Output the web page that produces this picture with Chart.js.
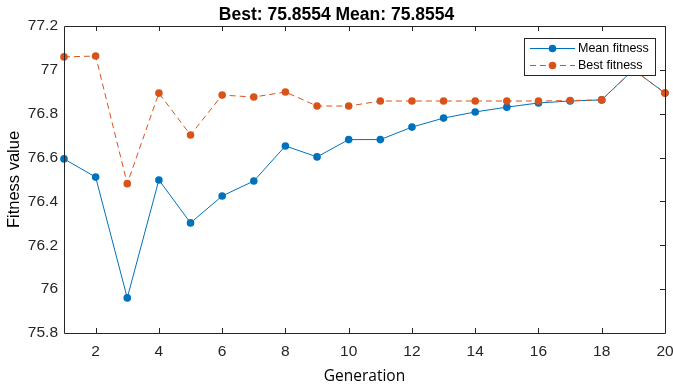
<!DOCTYPE html>
<html>
<head>
<meta charset="utf-8">
<script src="https://cdn.jsdelivr.net/npm/chart.js@4.4.1/dist/chart.umd.min.js"></script>
<style>
html,body{margin:0;padding:0;background:#fff;}
#wrap{width:673px;height:387px;position:relative;}
</style>
</head>
<body>
<div id="wrap"><canvas id="c" width="673" height="387"></canvas></div>
<script>
const generations = [1,2,3,4,5,6,7,8,9,10,11,12,13,14,15,16,17,18,19,20];
const meanFitness = [76.594,76.511,75.960,76.498,76.302,76.425,76.493,76.653,76.603,76.682,76.682,76.739,76.780,76.808,76.830,76.849,76.858,76.863,77.001,76.894];
const bestFitness = [77.059,77.063,76.481,76.894,76.703,76.885,76.876,76.899,76.835,76.835,76.858,76.858,76.858,76.858,76.858,76.858,76.860,76.863,77.001,76.894];
const xTickValues = [2,4,6,8,10,12,14,16,18,20];
const yTickValues = [75.8,76,76.2,76.4,76.6,76.8,77,77.2];
const titleText = 'Best: 75.8554 Mean: 75.8554';
const xLabel = 'Generation';
const yLabel = 'Fitness value';
const seriesNames = ['Mean fitness','Best fitness'];

const BLUE = '#0072BD', ORANGE = '#D95319', AXIS = '#262626';
const SANS = '"Liberation Sans", Arial, sans-serif';
const TICKFONT = {family:SANS, size:15.5, lineHeight:1.2};

const framePlugin = {
  id:'frame',
  afterDraw(chart){
    const ctx = chart.ctx, a = chart.chartArea;
    const xs = chart.scales.x, ys = chart.scales.y;
    ctx.save();
    ctx.strokeStyle = AXIS; ctx.lineWidth = 1;
    ctx.beginPath();
    ctx.rect(Math.round(a.left)+0.5, Math.round(a.top)+0.5, Math.round(a.right-a.left), Math.round(a.bottom-a.top));
    ctx.stroke();
    const tl = 5;
    ctx.beginPath();
    xTickValues.forEach(v=>{
      const px = Math.round(xs.getPixelForValue(v))+0.5;
      ctx.moveTo(px, a.bottom); ctx.lineTo(px, a.bottom-tl);
      ctx.moveTo(px, a.top); ctx.lineTo(px, a.top+tl);
    });
    yTickValues.forEach(v=>{
      const py = Math.round(ys.getPixelForValue(v))+0.5;
      ctx.moveTo(a.right, py); ctx.lineTo(a.right-tl, py);
    });
    ctx.stroke();
    // legend
    const lx = 524, ly = 38, lw = 131, lh = 37;
    ctx.fillStyle = '#fff';
    ctx.fillRect(lx, ly, lw, lh);
    ctx.strokeStyle = AXIS; ctx.lineWidth = 1;
    ctx.strokeRect(lx+0.5, ly+0.5, lw, lh);
    const ds = chart.data.datasets;
    ctx.font = '12.5px ' + SANS;
    ctx.textBaseline = 'middle';
    [0,1].forEach((i,k)=>{
      const d = ds[i];
      const y = ly + 10 + k*17;
      ctx.strokeStyle = d.borderColor; ctx.lineWidth = 1;
      ctx.setLineDash(d.borderDash || []);
      ctx.beginPath(); ctx.moveTo(lx+6, y+0.5); ctx.lineTo(lx+51, y+0.5); ctx.stroke();
      ctx.setLineDash([]);
      ctx.fillStyle = d.pointBackgroundColor;
      ctx.beginPath(); ctx.arc(lx+28.5, y+0.5, 3.8, 0, Math.PI*2); ctx.fill();
      ctx.fillStyle = '#000';
      ctx.fillText(d.label, lx+54, y+1);
    });
    ctx.restore();
  }
};

new Chart(document.getElementById('c'), {
  type:'line',
  data:{
    datasets:[
      {label:seriesNames[0], data:generations.map((g,i)=>({x:g,y:meanFitness[i]})),
       borderColor:BLUE, backgroundColor:BLUE, pointBackgroundColor:BLUE, pointBorderColor:BLUE,
       borderWidth:1, pointRadius:3.8, pointBorderWidth:0, tension:0, clip:false, order:1},
      {label:seriesNames[1], data:generations.map((g,i)=>({x:g,y:bestFitness[i]})),
       borderColor:ORANGE, backgroundColor:ORANGE, pointBackgroundColor:ORANGE, pointBorderColor:ORANGE,
       borderWidth:1, borderDash:[6,4], pointRadius:3.8, pointBorderWidth:0, tension:0, clip:false, order:0}
    ]
  },
  options:{
    responsive:false, animation:false, devicePixelRatio:1,
    layout:{padding:{left:0,right:0,top:0,bottom:0}},
    plugins:{
      legend:{display:false}, tooltip:{enabled:false},
      title:{display:true, text:titleText, color:'#000',
        font:{family:SANS, size:17.5, weight:'bold', lineHeight:1.2},
        padding:{top:4.5, bottom:0.5}}
    },
    scales:{
      x:{type:'linear', min:1, max:20,
        afterBuildTicks(s){ s.ticks = xTickValues.map(v=>({value:v})); },
        afterFit(s){ s.height = 54; s.paddingRight = 8; s.paddingLeft = 0; },
        grid:{display:false, drawTicks:false, tickLength:0}, border:{display:false},
        ticks:{color:AXIS, font:TICKFONT, padding:9, maxRotation:0, autoSkip:false, callback:v=>String(v)},
        title:{display:true, text:xLabel, color:'#000', font:{family:'"Open Sans", sans-serif', size:15.5, lineHeight:1.2}, padding:{top:0,bottom:1}}
      },
      y:{type:'linear', min:75.8, max:77.2,
        afterBuildTicks(s){ s.ticks = yTickValues.map(v=>({value:v})); },
        afterFit(s){ s.width = 64; },
        grid:{display:false, drawTicks:false, tickLength:0}, border:{display:false},
        ticks:{color:AXIS, font:TICKFONT, padding:6, autoSkip:false, callback:v=>String(Math.round(v*10)/10)},
        title:{display:true, text:yLabel, color:'#000', font:{family:SANS, size:16.5, lineHeight:1.2}, padding:{top:5,bottom:0}}
      }
    }
  },
  plugins:[framePlugin]
});
</script>
</body>
</html>
